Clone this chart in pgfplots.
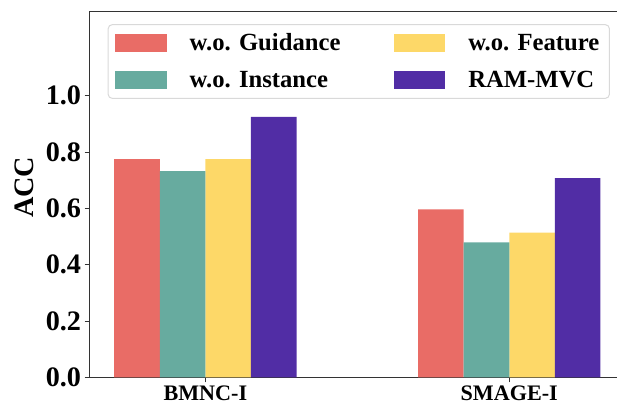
\documentclass[border=0pt]{standalone}
\usepackage{pgfplots}
\pgfplotsset{compat=1.18}
\usepackage{fontspec}
\setmainfont{Liberation Serif}
\definecolor{cRed}{RGB}{233,108,102}
\definecolor{cTeal}{RGB}{103,171,159}
\definecolor{cYel}{RGB}{253,216,104}
\definecolor{cPur}{RGB}{81,45,165}
\pgfplotsset{mybarlegend/.style={legend image code/.code={\fill[##1, sharp corners] (0pt,-9pt) rectangle (51pt,9pt);}}}
\begin{document}
\begin{tikzpicture}
\begin{axis}[
  scale only axis,
  width=532pt, height=364pt,
  xmin=-0.381, xmax=1.381,
  ymin=0, ymax=1.3,
  axis x line*=bottom, axis y line*=left,
  ybar, bar width=0.15, bar shift=0pt,
  xtick={0,1}, xticklabels={BMNC-I,SMAGE-I},
  ytick={0,0.2,0.4,0.6,0.8,1.0},
  yticklabel style={/pgf/number format/fixed,/pgf/number format/fixed zerofill,/pgf/number format/precision=1},
  /pgf/number format/assume math mode=true,
  tick align=outside, xtick pos=bottom, ytick pos=left,
  major tick length=5pt,
  tick style={line width=0.9pt, black!80},
  axis line style={line width=1pt, black!80, -},
  yticklabel style={font=\bfseries\fontsize{28}{28}\selectfont},
  xticklabel style={font=\bfseries\fontsize{22}{22}\selectfont},
  ylabel={ACC},
  ylabel style={font=\bfseries\fontsize{28}{28}\selectfont, at={(axis description cs:-0.122,0.519)}, anchor=center},
  legend columns=2,
  legend cell align=left,
  legend style={at={(axis description cs:0,1)}, anchor=north west, xshift=18pt, yshift=-13pt,
    draw=black!15, line width=1pt, rounded corners=4pt, fill=white,
    font=\bfseries\fontsize{24.5}{24.5}\selectfont,
    inner xsep=7pt, inner ysep=6pt,
    /tikz/every odd column/.append style={column sep=20pt},
    /tikz/every even column/.append style={column sep=50pt},
    row sep=13pt,
    nodes={inner sep=3pt}},
]
\draw[line width=1pt, black!80] (rel axis cs:0,1) -- (rel axis cs:1,1);
\addplot[draw=none, fill=cRed, mybarlegend] coordinates {(-0.225,0.775) (0.775,0.596)};
\addlegendentry{w.o. Guidance}
\addplot[draw=none, fill=cYel, mybarlegend] coordinates {(0.075,0.775) (1.075,0.514)};
\addlegendentry{w.o. Feature}
\addplot[draw=none, fill=cTeal, mybarlegend] coordinates {(-0.075,0.732) (0.925,0.479)};
\addlegendentry{w.o. Instance}
\addplot[draw=none, fill=cPur, mybarlegend] coordinates {(0.225,0.925) (1.225,0.707)};
\addlegendentry{RAM-MVC}
\end{axis}
\pgfresetboundingbox
\path ([xshift=-89pt,yshift=-30pt]current axis.south west) rectangle ([xshift=524pt,yshift=11pt]current axis.north west);
\end{tikzpicture}
\end{document}
